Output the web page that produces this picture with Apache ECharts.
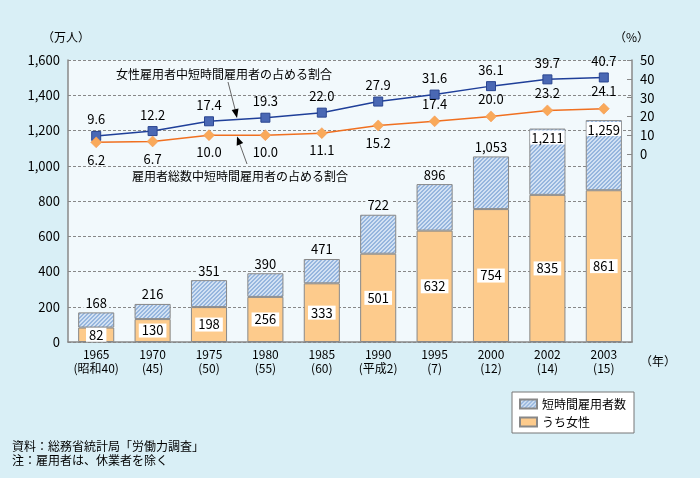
<!DOCTYPE html>
<html><head><meta charset="utf-8">
<script src="https://cdn.jsdelivr.net/npm/echarts@6/dist/echarts.min.js"></script>
<style>html,body{margin:0;padding:0;background:#d9eff6;}#c{width:700px;height:478px;}</style>
</head><body><div id="c"></div>
<script>
var years = ['1965','1970','1975','1980','1985','1990','1995','2000','2002','2003'];
var eras = ['(昭和40)','(45)','(50)','(55)','(60)','(平成2)','(7)','(12)','(14)','(15)'];
var totalEmp = [168,216,351,390,471,722,896,1053,1211,1259];
var femaleEmp = [82,130,198,256,333,501,632,754,835,861];
var pctFemale = [9.6,12.2,17.4,19.3,22.0,27.9,31.6,36.1,39.7,40.7];
var pctTotal = [6.2,6.7,10.0,10.0,11.1,15.2,17.4,20.0,23.2,24.1];
var leftTicks = [0,200,400,600,800,1000,1200,1400,1600];
var rightTicks = [0,10,20,30,40,50];

var FONT = '"Noto Sans CJK JP", sans-serif';
function fmt(v){ return String(v).replace(/\B(?=(\d{3})+(?!\d))/g, ','); }

// hatch pattern (diagonal "/" stripes, 4px period)
var pc = document.createElement('canvas');
pc.width = 4; pc.height = 4;
var g = pc.getContext('2d');
for (var x=0;x<4;x++){ for (var y=0;y<4;y++){
  var m = (x+y)%4;
  g.fillStyle = (m<2) ? '#96b6de' : '#d2e1f3';
  g.fillRect(x,y,1,1);
}}

var cats = years.map(function(y,i){ return y + '\n' + eras[i]; });
var hatchData = totalEmp.map(function(t,i){
  var item = { value: t - femaleEmp[i] };
  if (i >= 8) {
    item.label = { position: 'insideTop', distance: 2, backgroundColor: '#ffffff', padding:[1,1,0,1] };
  }
  return item;
});

var chart = echarts.init(document.getElementById('c'), null, {renderer:'canvas'});
chart.setOption({
  backgroundColor: '#d9eff6',
  animation: false,
  textStyle: { fontFamily: FONT },
  grid: { left: 68, right: 68, top: 60, bottom: 136, show: true, backgroundColor: '#f2f9fc', borderWidth: 0 },
  legend: {
    orient: 'vertical', left: 512, top: 392,
    itemWidth: 17, itemHeight: 9, itemGap: 6,
    backgroundColor: '#ffffff', borderColor: '#777777', borderWidth: 1,
    padding: [6, 8, 5, 7],
    textStyle: { fontSize: 12, color: '#000', fontFamily: FONT },
    data: [ {name:'短時間雇用者数', icon:'rect'}, {name:'うち女性', icon:'rect'} ]
  },
  xAxis: {
    type: 'category', data: cats, boundaryGap: true,
    axisLine: { lineStyle: { color: '#888', width: 1.5 } },
    axisTick: { inside: true, length: 5, interval: 0, lineStyle: { color: '#888' } },
    axisLabel: { color: '#000', fontSize: 12, lineHeight: 14, margin: 5, interval: 0, fontFamily: FONT }
  },
  yAxis: [
    { type: 'value', min: 0, max: 1600, interval: 200, position: 'left',
      axisLine: { show: true, lineStyle: { color: '#888', width: 1.5 } },
      axisTick: { show: false },
      splitLine: { lineStyle: { color: '#888', type: [3,2], width: 1 } },
      axisLabel: { color: '#000', fontSize: 13, margin: 8, formatter: function(v){ return fmt(v); }, customValues: leftTicks }
    },
    { type: 'value', min: -100, max: 50, interval: 10, position: 'right',
      axisLine: { show: true, lineStyle: { color: '#888', width: 1.5 } },
      axisTick: { show: true, inside: true, length: 5, lineStyle: { color: '#888' }, customValues: rightTicks },
      splitLine: { show: false },
      axisLabel: { color: '#000', fontSize: 13, margin: 8, customValues: rightTicks }
    }
  ],
  graphic: [
    { type: 'text', left: 42, top: 31, style: { text: '（万人）', fontSize: 12, fontFamily: FONT, fill: '#000' } },
    { type: 'text', left: 614, top: 31, style: { text: '（%）', fontSize: 12, fontFamily: FONT, fill: '#000' } },
    { type: 'text', left: 640, top: 355, style: { text: '（年）', fontSize: 12, fontFamily: FONT, fill: '#000' } },
    { type: 'text', left: 116, top: 68, style: { text: '女性雇用者中短時間雇用者の占める割合', fontSize: 12, fontFamily: FONT, fill: '#000' } },
    { type: 'text', left: 132, top: 170, style: { text: '雇用者総数中短時間雇用者の占める割合', fontSize: 12, fontFamily: FONT, fill: '#000' } },
    { type: 'line', shape: { x1: 228, y1: 82, x2: 236, y2: 113 }, style: { stroke: '#666', lineWidth: 1 } },
    { type: 'polygon', shape: { points: [[237,118],[238.5,108.4],[231.7,110]] }, style: { fill: '#000' } },
    { type: 'line', shape: { x1: 247, y1: 164, x2: 239, y2: 142 }, style: { stroke: '#666', lineWidth: 1 } },
    { type: 'polygon', shape: { points: [[237,136.5],[243.2,143.1],[236.7,145.7]] }, style: { fill: '#000' } },
    { type: 'text', left: 12, top: 440, style: { text: '資料：総務省統計局「労働力調査」', fontSize: 12, fontFamily: FONT, fill: '#000' } },
    { type: 'text', left: 12, top: 454, style: { text: '注：雇用者は、休業者を除く', fontSize: 12, fontFamily: FONT, fill: '#000' } }
  ],
  series: [
    { name: 'うち女性', type: 'bar', stack: 'a', yAxisIndex: 0, barWidth: '64%',
      data: femaleEmp,
      itemStyle: { color: '#fdcb8c', borderColor: '#888', borderWidth: 1 },
      label: { show: true, position: 'inside', color: '#000', fontSize: 13, backgroundColor: '#ffffff', padding: [1,3,0,3] }
    },
    { name: '短時間雇用者数', type: 'bar', stack: 'a', yAxisIndex: 0, barWidth: '64%',
      data: hatchData,
      itemStyle: { color: { image: pc, repeat: 'repeat' }, borderColor: '#888', borderWidth: 1 },
      label: { show: true, position: 'top', distance: 3, color: '#000', fontSize: 13, backgroundColor: '#f2f9fc', padding: [1,2,0,2],
        formatter: function(p){ return fmt(totalEmp[p.dataIndex]); } }
    },
    { name: 'pctFemale', type: 'line', yAxisIndex: 1, data: pctFemale,
      symbol: 'rect', symbolSize: 9, z: 5,
      lineStyle: { color: '#1f3f99', width: 1.5 },
      itemStyle: { color: '#4a68b4', borderColor: '#2a4590', borderWidth: 1 },
      label: { show: true, position: 'top', distance: 5, color: '#000', fontSize: 13, formatter: function(p){ return p.value.toFixed(1); } }
    },
    { name: 'pctTotal', type: 'line', yAxisIndex: 1,
      data: pctTotal.map(function(v,i){ return i >= 6 ? { value: v, label: { position: 'top' } } : v; }),
      symbol: 'diamond', symbolSize: 11, z: 5,
      lineStyle: { color: '#f07020', width: 1.5 },
      itemStyle: { color: '#f9a95a', borderColor: '#f5934a', borderWidth: 0.5 },
      label: { show: true, position: 'bottom', distance: 5, color: '#000', fontSize: 13, formatter: function(p){ return Number(p.value).toFixed(1); } }
    }
  ]
});
</script></body></html>
